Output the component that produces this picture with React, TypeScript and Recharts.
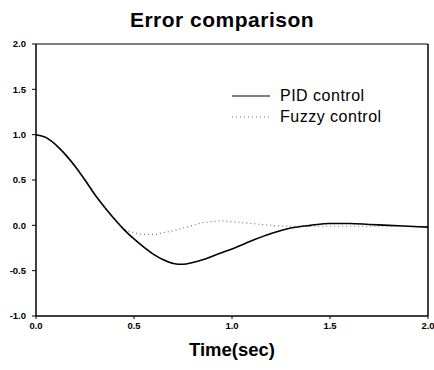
import { LineChart, Line, XAxis, YAxis, ReferenceLine } from "recharts";

const TIME = [0, 0.05, 0.1, 0.15, 0.2, 0.25, 0.3, 0.35, 0.4, 0.45, 0.5, 0.55, 0.6, 0.65, 0.7, 0.75, 0.8, 0.85, 0.9, 0.95, 1.0, 1.1, 1.2, 1.3, 1.4, 1.5, 1.6, 1.7, 1.8, 1.9, 2.0];
const PID = [1.0, 0.97, 0.89, 0.78, 0.65, 0.5, 0.34, 0.2, 0.07, -0.05, -0.15, -0.24, -0.32, -0.38, -0.42, -0.43, -0.41, -0.38, -0.34, -0.3, -0.26, -0.17, -0.09, -0.03, 0.0, 0.02, 0.02, 0.01, 0.0, -0.01, -0.02];
const FUZZY = [1.0, 0.97, 0.89, 0.78, 0.65, 0.5, 0.34, 0.2, 0.07, -0.04, -0.08, -0.1, -0.1, -0.08, -0.06, -0.03, 0.0, 0.03, 0.04, 0.05, 0.04, 0.02, 0.0, -0.01, -0.01, -0.01, -0.01, -0.01, -0.01, -0.01, -0.01];
const X_TICKS = [0, 0.5, 1, 1.5, 2];
const Y_TICKS = [-1, -0.5, 0, 0.5, 1, 1.5, 2];

const data = TIME.map((t, i) => ({ t, pid: PID[i], fuzzy: FUZZY[i] }));

const font = "Arial, 'Liberation Sans', sans-serif";
const tickStyle = { fontSize: 9.5, fontWeight: 700, fill: "#000", fontFamily: font };

export default function App() {
  return (
    <div style={{ position: "fixed", left: 0, top: 0, width: 434, height: 370, background: "#fff", fontFamily: font }}>
      <div style={{ position: "absolute", left: 0, width: 444, top: 8, textAlign: "center", fontSize: 21, fontWeight: 700, letterSpacing: 0.5 }}>
        Error comparison
      </div>
      <LineChart width={434} height={370} data={data} margin={{ top: 44, right: 6, bottom: 0, left: 0 }}>
        <XAxis
          dataKey="t"
          type="number"
          domain={[0, 2]}
          ticks={X_TICKS}
          tickFormatter={(v: number) => v.toFixed(1)}
          tick={tickStyle}
          tickSize={3}
          tickMargin={3}
          axisLine={{ stroke: "#000", strokeWidth: 1.5 }}
          tickLine={{ stroke: "#000" }}
          height={54}
          label={{ value: "Time(sec)", position: "insideBottom", offset: 14, style: { fontSize: 18.5, fontWeight: 700, fill: "#000", fontFamily: font } }}
        />
        <YAxis
          type="number"
          domain={[-1, 2]}
          ticks={Y_TICKS}
          tickFormatter={(v: number) => v.toFixed(1)}
          tick={tickStyle}
          tickSize={4}
          tickMargin={6}
          width={36}
          axisLine={{ stroke: "#000", strokeWidth: 1.5 }}
          tickLine={{ stroke: "#000" }}
        />
        <ReferenceLine y={2} stroke="#000" strokeWidth={1} />
        <ReferenceLine x={2} stroke="#000" strokeWidth={1.5} />
        <Line type="monotone" dataKey="fuzzy" stroke="#777" strokeWidth={1.2} strokeDasharray="1 3" dot={false} isAnimationActive={false} />
        <Line type="monotone" dataKey="pid" stroke="#000" strokeWidth={1.6} dot={false} isAnimationActive={false} />
      </LineChart>
      <div style={{ position: "absolute", left: 232, top: 85, fontSize: 16, letterSpacing: 0.5, lineHeight: "21px" }}>
        <div style={{ display: "flex", alignItems: "center" }}>
          <svg width={38} height={4} style={{ marginRight: 10 }}><line x1={0} y1={2} x2={38} y2={2} stroke="#000" strokeWidth={1.2} /></svg>
          PID control
        </div>
        <div style={{ display: "flex", alignItems: "center" }}>
          <svg width={38} height={4} style={{ marginRight: 10 }}><line x1={0} y1={2} x2={38} y2={2} stroke="#777" strokeWidth={1.2} strokeDasharray="1 3" /></svg>
          Fuzzy control
        </div>
      </div>
    </div>
  );
}
